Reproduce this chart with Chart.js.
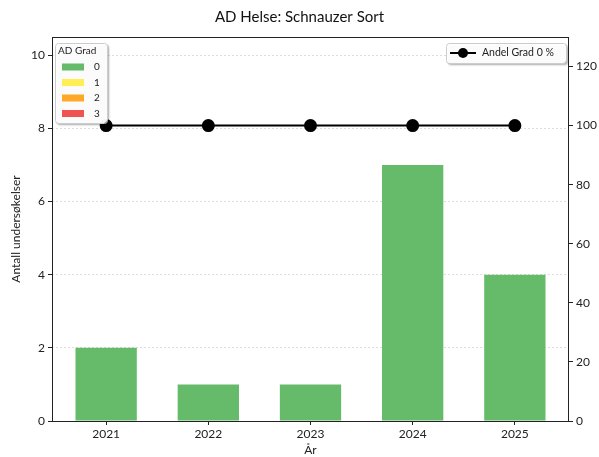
<!DOCTYPE html>
<html>
<head>
<meta charset="utf-8">
<script src="https://cdn.jsdelivr.net/npm/chart.js@4/dist/chart.umd.min.js"></script>
<style>
  html, body { margin: 0; padding: 0; background: #fff; }
  #wrap { width: 599px; height: 457px; }
</style>
</head>
<body>
<div id="wrap"><canvas id="myChart" width="599" height="457"></canvas></div>
<script>
// AD Helse - Schnauzer Sort

const aar = ['2021', '2022', '2023', '2024', '2025'];
const grad0 = [2, 1, 1, 7, 4];
const grad1 = [0, 0, 0, 0, 0];
const grad2 = [0, 0, 0, 0, 0];
const grad3 = [0, 0, 0, 0, 0];
const andelGrad0 = [100, 100, 100, 100, 100];
const gradNavn = ['0', '1', '2', '3'];
const gradFarger = ['#66bb6a', '#ffee58', '#ffa726', '#ef5350'];
const venstreTicks = [0, 2, 4, 6, 8, 10];
const hoyreTicks = [0, 20, 40, 60, 80, 100, 120];

Chart.defaults.font.family = 'Lato, "Open Sans", sans-serif';
Chart.defaults.color = '#222';

const tilPunkter = (arr) => arr.map((v, i) => ({ x: i, y: v }));

// tegner ramme + begge legendene oppå plottet
const rammeOgLegende = {
    id: 'rammeOgLegende',
    afterDraw(chart) {
        const { ctx, chartArea: a } = chart;
        ctx.save();
        ctx.strokeStyle = '#222';
        ctx.lineWidth = 1;
        ctx.strokeRect(a.left + 0.5, a.top + 0.5, a.right - a.left - 1, a.bottom - a.top);

        const boks = (x, y, w, h) => {
            ctx.save();
            ctx.shadowColor = 'rgba(0,0,0,0.35)';
            ctx.shadowOffsetX = 2;
            ctx.shadowOffsetY = 2;
            ctx.shadowBlur = 2;
            ctx.fillStyle = 'rgba(255,255,255,0.95)';
            ctx.beginPath();
            ctx.roundRect(x, y, w, h, 3);
            ctx.fill();
            ctx.restore();
            ctx.strokeStyle = '#ccc';
            ctx.beginPath();
            ctx.roundRect(x + 0.5, y + 0.5, w, h, 3);
            ctx.stroke();
        };

        // venstre legende
        boks(a.left + 3, a.top + 6, 52, 80);
        ctx.fillStyle = '#222';
        ctx.font = '10px Lato, sans-serif';
        ctx.textBaseline = 'middle';
        ctx.textAlign = 'left';
        ctx.fillText('AD Grad', a.left + 6, a.top + 14);
        gradNavn.forEach((g, i) => {
            const y = a.top + 30 + i * 15.5;
            ctx.fillStyle = gradFarger[i];
            ctx.fillRect(a.left + 10, y - 3.5, 22, 7);
            ctx.fillStyle = '#222';
            ctx.fillText(g, a.left + 42, y);
        });

        // høyre legende
        const bx = a.right - 123, by = a.top + 6;
        boks(bx, by, 120, 20);
        ctx.strokeStyle = '#000';
        ctx.lineWidth = 2;
        ctx.beginPath();
        ctx.moveTo(bx + 4, by + 10);
        ctx.lineTo(bx + 30, by + 10);
        ctx.stroke();
        ctx.fillStyle = '#000';
        ctx.beginPath();
        ctx.arc(bx + 17, by + 10, 5, 0, Math.PI * 2);
        ctx.fill();
        ctx.fillStyle = '#222';
        ctx.font = '10.5px Lato, sans-serif';
        ctx.fillText('Andel Grad 0 %', bx + 36, by + 10);
        ctx.restore();
    }
};

const stolpe = (label, data, farge) => ({
    type: 'bar', label, data: tilPunkter(data), backgroundColor: farge,
    stack: 'grad', yAxisID: 'y', order: 2,
    barPercentage: 0.6, categoryPercentage: 1.0
});

new Chart(document.getElementById('myChart'), {
    data: {
        datasets: [
            stolpe('0', grad0, gradFarger[0]),
            stolpe('1', grad1, gradFarger[1]),
            stolpe('2', grad2, gradFarger[2]),
            stolpe('3', grad3, gradFarger[3]),
            {
                type: 'line', label: 'Andel Grad 0 %', data: tilPunkter(andelGrad0),
                yAxisID: 'y2', order: 1,
                borderColor: '#000', borderWidth: 2,
                pointBackgroundColor: '#000', pointBorderColor: '#000',
                pointRadius: 5.5
            }
        ]
    },
    options: {
        responsive: false,
        animation: false,
        layout: { padding: 0 },
        plugins: {
            legend: { display: false },
            tooltip: { enabled: false },
            title: {
                display: true,
                text: 'AD Helse: Schnauzer Sort',
                font: { size: 15, weight: 'normal' },
                color: '#111',
                padding: { top: 8, bottom: 11 }
            }
        },
        scales: {
            x: {
                type: 'linear',
                stacked: true,
                offset: false,
                min: -0.53, max: 4.53,
                afterBuildTicks: (s) => { s.ticks = aar.map((_, i) => ({ value: i })); },
                grid: { offset: false, drawOnChartArea: false, tickLength: 4, tickColor: '#222' },
                border: { display: false },
                ticks: { font: { size: 12 }, padding: 2, callback: (v) => aar[v] },
                title: { display: true, text: 'År', font: { size: 12 }, padding: 0 },
                afterFit: (s) => { s.height = 36; }
            },
            y: {
                stacked: true,
                position: 'left',
                min: 0, max: 10.5,
                afterBuildTicks: (s) => { s.ticks = venstreTicks.map(v => ({ value: v })); },
                grid: { color: '#ddd', tickLength: 4, tickColor: '#222' },
                border: { display: false, dash: [2, 2] },
                ticks: { font: { size: 12 }, padding: 3 },
                title: { display: true, text: 'Antall undersøkelser', font: { size: 12 }, padding: { top: 9, bottom: 0 } },
                afterFit: (s) => { s.width = 52; }
            },
            y2: {
                position: 'right',
                min: 0, max: 130,
                afterBuildTicks: (s) => { s.ticks = hoyreTicks.map(v => ({ value: v })); },
                grid: { drawOnChartArea: false, tickLength: 4, tickColor: '#222' },
                border: { display: false },
                ticks: { font: { size: 12 }, padding: 3 },
                afterFit: (s) => { s.width = 30; }
            }
        }
    },
    plugins: [rammeOgLegende]
});
</script>
</body>
</html>
